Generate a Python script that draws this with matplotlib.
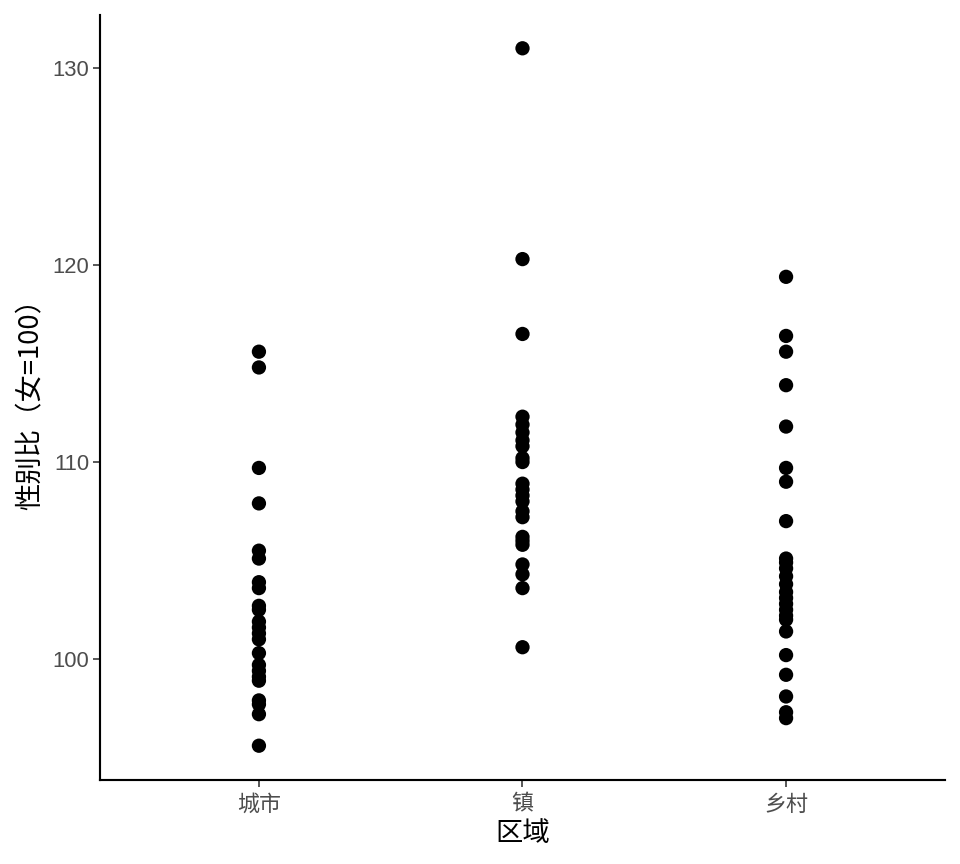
import numpy as np
import matplotlib
matplotlib.use("Agg")
from matplotlib import pyplot as plt

plt.rcParams['font.family'] = ['Liberation Sans', 'Noto Sans CJK SC', 'DejaVu Sans']

# categorias e valores
regions = ["城市", "镇", "乡村"]
city = [115.6, 114.8, 109.7, 107.9, 105.5, 105.1, 103.9, 103.6, 102.7, 102.5,
        101.9, 101.6, 101.3, 101.0, 100.3, 99.7, 99.4, 99.1, 98.9, 97.9,
        97.7, 97.2, 95.6]
town = [131.0, 120.3, 116.5, 112.3, 111.9, 111.5, 111.1, 110.8, 110.2, 110.0,
        108.9, 108.6, 108.3, 108.0, 107.5, 107.2, 106.2, 106.0, 105.8, 104.8,
        104.3, 103.6, 100.6]
rural = [119.4, 116.4, 115.6, 113.9, 111.8, 109.7, 109.0, 107.0, 105.1, 104.9,
         104.6, 104.2, 103.8, 103.4, 103.1, 102.8, 102.5, 102.2, 102.0, 101.4,
         100.2, 99.2, 98.1, 97.3, 97.0]
yticks = [100, 110, 120, 130]

fig = plt.figure(figsize=(10, 9), dpi=96)
ax = fig.add_axes([100 / 960, 1 - 780 / 864, 845 / 960, 765 / 864])

for i, vals in enumerate([city, town, rural]):
    ax.scatter(np.full(len(vals), i), vals, s=115, color="black",
               edgecolors="none", zorder=3)

ax.set_xlim(-0.603, 2.603)
ax.set_ylim(93.86, 132.69)
ax.set_xticks(range(len(regions)))
ax.set_xticklabels(regions)
ax.set_yticks(yticks)

for side in ["top", "right"]:
    ax.spines[side].set_visible(False)
for side in ["left", "bottom"]:
    ax.spines[side].set_linewidth(1.6)

ax.tick_params(axis="both", length=5, width=1.2, color="#333333",
               labelcolor="#4D4D4D", labelsize=16.5, pad=3)
ax.tick_params(axis="x", pad=6)

ax.set_xlabel("区域", fontsize=20.5, labelpad=4)
ax.set_ylabel("性别比（女=100）", fontsize=20.5, labelpad=6,
              family=['Noto Sans CJK SC', 'DejaVu Sans'])

plt.savefig("out.png", dpi=96)
